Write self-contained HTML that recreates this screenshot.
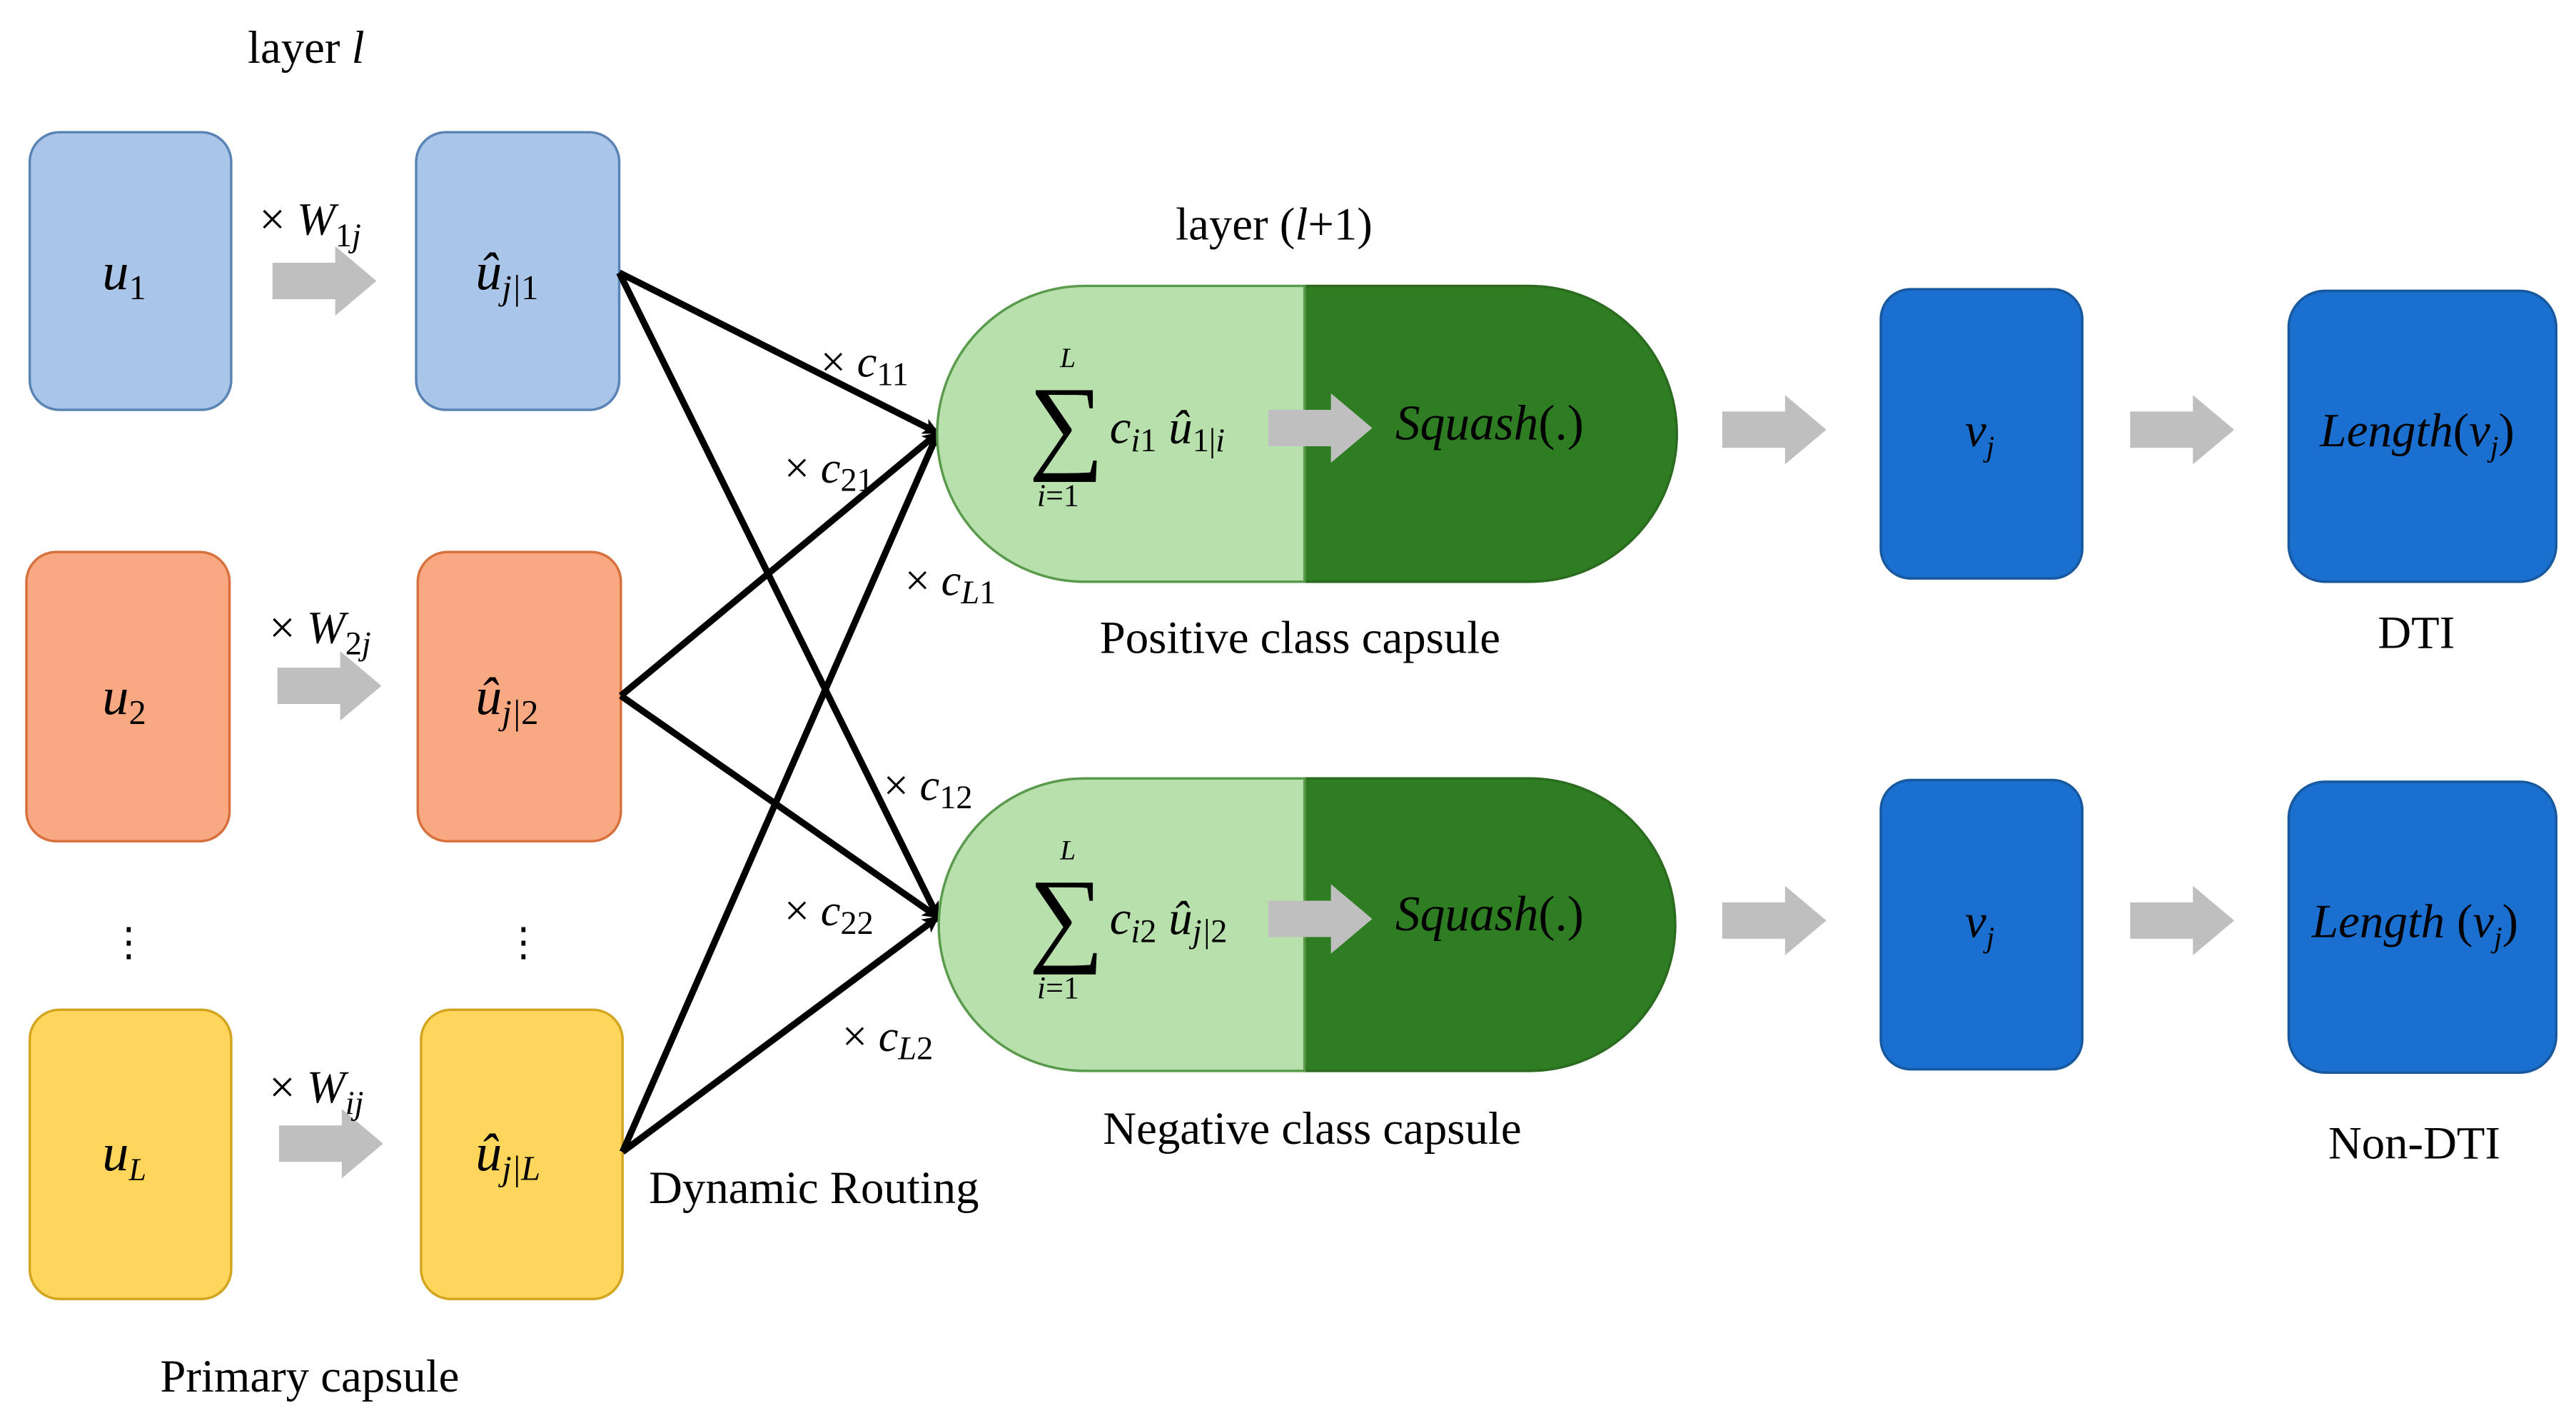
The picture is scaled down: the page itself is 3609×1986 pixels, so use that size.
<!DOCTYPE html>
<html><head><meta charset="utf-8"><style>
html,body{margin:0;padding:0;background:#fff;}
svg{display:block;}
text{font-family:"Liberation Serif",serif;fill:#000;}
.m{font-style:italic;}
</style></head><body>
<svg width="3609" height="1986" viewBox="0 0 1560 858" preserveAspectRatio="none" xmlns="http://www.w3.org/2000/svg">
<defs>
<marker id="ah" markerWidth="10" markerHeight="10" refX="9" refY="5" orient="auto" markerUnits="userSpaceOnUse">
<path d="M0,0 L10,5 L0,10 L2.5,5 Z" fill="#000"/>
</marker>
<g id="ga"><path d="M0,-11 L38,-11 L38,-21 L63,0 L38,21 L38,11 L0,11 Z" fill="#bfbfbf"/></g>
</defs>

<text x="150" y="38" font-size="28">layer <tspan class="m">l</tspan></text>

<rect x="18" y="80" width="122" height="168" rx="18" fill="#a9c5e8" stroke="#5a84b5" stroke-width="1.5"/>
<rect x="252" y="80" width="123" height="168" rx="18" fill="#a9c5e8" stroke="#5a84b5" stroke-width="1.5"/>
<rect x="16" y="334" width="123" height="175" rx="18" fill="#f9a982" stroke="#d8703e" stroke-width="1.5"/>
<rect x="253" y="334" width="123" height="175" rx="18" fill="#f9a982" stroke="#d8703e" stroke-width="1.5"/>
<rect x="18" y="611" width="122" height="175" rx="18" fill="#ffd65c" stroke="#d3a520" stroke-width="1.5"/>
<rect x="255" y="611" width="122" height="175" rx="18" fill="#ffd65c" stroke="#d3a520" stroke-width="1.5"/>

<text x="62" y="175" font-size="32" class="m">u<tspan font-size="21" font-style="normal" dy="6">1</tspan></text>
<text x="62" y="432" font-size="32" class="m">u<tspan font-size="21" font-style="normal" dy="6">2</tspan></text>
<text x="62" y="708" font-size="32" class="m">u<tspan font-size="19" dy="6">L</tspan></text>
<text x="288" y="175" font-size="32" class="m">û<tspan font-size="21" dy="6">j|</tspan><tspan font-size="21" font-style="normal">1</tspan></text>
<text x="288" y="432" font-size="32" class="m">û<tspan font-size="21" dy="6">j|</tspan><tspan font-size="21" font-style="normal">2</tspan></text>
<text x="288" y="708" font-size="32" class="m">û<tspan font-size="21" dy="6">j|L</tspan></text>

<text x="66" y="578" font-size="24">⋮</text>
<text x="305" y="578" font-size="24">⋮</text>

<use href="#ga" x="165" y="170"/>
<use href="#ga" x="168" y="415"/>
<use href="#ga" x="169" y="692"/>
<text x="157" y="142" font-size="28">× <tspan class="m">W</tspan><tspan font-size="20" dy="7">1</tspan><tspan font-size="20" class="m">j</tspan></text>
<text x="163" y="389" font-size="28">× <tspan class="m">W</tspan><tspan font-size="20" dy="7">2</tspan><tspan font-size="20" class="m">j</tspan></text>
<text x="163" y="667" font-size="28">× <tspan class="m">W</tspan><tspan font-size="20" class="m" dy="7">ij</tspan></text>

<g stroke="#000" stroke-width="4" fill="none" marker-end="url(#ah)">
<line x1="375" y1="165" x2="568" y2="262"/>
<line x1="375" y1="165" x2="568" y2="555"/>
<line x1="376" y1="421" x2="568" y2="262"/>
<line x1="376" y1="421" x2="568" y2="555"/>
<line x1="377" y1="697" x2="568" y2="262"/>
<line x1="377" y1="697" x2="568" y2="555"/>
</g>
<g font-size="27">
<text x="497" y="228">× <tspan class="m">c</tspan><tspan font-size="20" dy="5">11</tspan></text>
<text x="475" y="292">× <tspan class="m">c</tspan><tspan font-size="20" dy="5">21</tspan></text>
<text x="548" y="360">× <tspan class="m">c</tspan><tspan font-size="20" class="m" dy="5">L</tspan><tspan font-size="20">1</tspan></text>
<text x="535" y="484">× <tspan class="m">c</tspan><tspan font-size="20" dy="5">12</tspan></text>
<text x="475" y="560">× <tspan class="m">c</tspan><tspan font-size="20" dy="5">22</tspan></text>
<text x="510" y="636">× <tspan class="m">c</tspan><tspan font-size="20" class="m" dy="5">L</tspan><tspan font-size="20">2</tspan></text>
</g>
<text x="393" y="728" font-size="28">Dynamic Routing</text>
<text x="97" y="842" font-size="28">Primary capsule</text>

<text x="712" y="145" font-size="28">layer (<tspan class="m">l</tspan>+1)</text>

<path d="M790,173 L926,173 A89,89 0 0 1 926,352 L790,352 Z" fill="#2e7d23" stroke="#2a6b1f" stroke-width="1.5"/>
<path d="M790,173 L657,173 A89,89 0 0 0 657,352 L790,352 Z" fill="#b8e0ad" stroke="#5a9a4c" stroke-width="1.5"/>
<path d="M790,471 L926,471 A88.5,88.5 0 0 1 926,648 L790,648 Z" fill="#2e7d23" stroke="#2a6b1f" stroke-width="1.5"/>
<path d="M790,471 L657,471 A88.5,88.5 0 0 0 657,648 L790,648 Z" fill="#b8e0ad" stroke="#5a9a4c" stroke-width="1.5"/>

<text x="642" y="222" font-size="17" class="m">L</text>
<text x="623" y="278" font-size="64">∑</text>
<text x="628" y="306" font-size="19"><tspan class="m">i</tspan>=1</text>
<text x="672" y="268" font-size="29" class="m">c<tspan font-size="20" dy="5">i</tspan><tspan font-size="20" font-style="normal">1</tspan><tspan dy="-5"> û</tspan><tspan font-size="20" font-style="normal" dy="5">1|</tspan><tspan font-size="20">i</tspan></text>
<use href="#ga" x="768" y="259"/>
<text x="845" y="266" font-size="30"><tspan class="m">Squash</tspan>(.)</text>

<text x="642" y="520" font-size="17" class="m">L</text>
<text x="623" y="576" font-size="64">∑</text>
<text x="628" y="604" font-size="19"><tspan class="m">i</tspan>=1</text>
<text x="672" y="565" font-size="29" class="m">c<tspan font-size="20" dy="5">i</tspan><tspan font-size="20" font-style="normal">2</tspan><tspan dy="-5"> û</tspan><tspan font-size="20" dy="5">j|</tspan><tspan font-size="20" font-style="normal">2</tspan></text>
<use href="#ga" x="768" y="556"/>
<text x="845" y="563" font-size="30"><tspan class="m">Squash</tspan>(.)</text>

<text x="666" y="395" font-size="28">Positive class capsule</text>
<text x="668" y="692" font-size="28">Negative class capsule</text>

<use href="#ga" x="1043" y="260"/>
<use href="#ga" x="1290" y="260"/>
<use href="#ga" x="1043" y="557"/>
<use href="#ga" x="1290" y="557"/>
<rect x="1139" y="175" width="122" height="175" rx="18" fill="#1a6fcf" stroke="#17589e" stroke-width="1.5"/>
<rect x="1139" y="472" width="122" height="175" rx="18" fill="#1a6fcf" stroke="#17589e" stroke-width="1.5"/>
<rect x="1386" y="176" width="162" height="176" rx="22" fill="#1a6fcf" stroke="#17589e" stroke-width="1.5"/>
<rect x="1386" y="473" width="162" height="176" rx="22" fill="#1a6fcf" stroke="#17589e" stroke-width="1.5"/>
<text x="1190" y="270" font-size="29" class="m">v<tspan font-size="18" dy="6">j</tspan></text>
<text x="1190" y="567" font-size="29" class="m">v<tspan font-size="18" dy="6">j</tspan></text>
<text x="1405" y="270" font-size="29"><tspan class="m">Length</tspan>(<tspan class="m">v</tspan><tspan font-size="18" class="m" dy="6">j</tspan><tspan dy="-6">)</tspan></text>
<text x="1400" y="567" font-size="29"><tspan class="m">Length</tspan> (<tspan class="m">v</tspan><tspan font-size="18" class="m" dy="6">j</tspan><tspan dy="-6">)</tspan></text>
<text x="1440" y="392" font-size="28">DTI</text>
<text x="1410" y="701" font-size="28">Non-DTI</text>
</svg>
</body></html>
